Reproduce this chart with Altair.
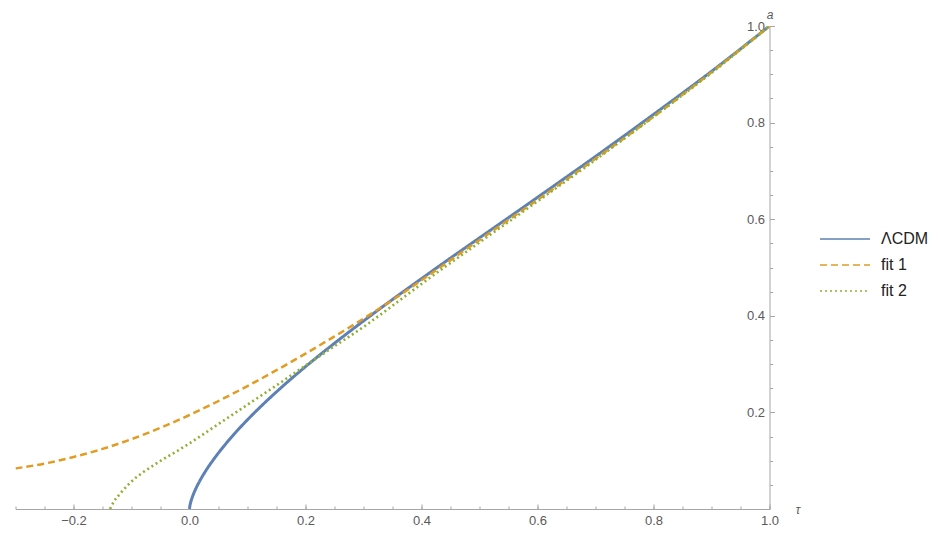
import altair as alt
import pandas as pd

# ---- data ----
series_names = ["ΛCDM", "fit 1", "fit 2"]
series_colors = ["#5E81B5", "#E19C24", "#8FB032"]
series_dashes = [[1, 0], [7, 4], [2, 3]]

tau_lcdm = [0, 0.0005, 0.001, 0.002, 0.005, 0.01, 0.02, 0.03, 0.04, 0.06, 0.08, 0.1,
            0.125, 0.15, 0.175, 0.2, 0.25, 0.3, 0.35, 0.4, 0.45, 0.5, 0.6, 0.7, 0.8, 0.9, 1.0]
a_lcdm = [0, 0.0054, 0.0086, 0.0136, 0.025, 0.0397, 0.0631, 0.0827, 0.1001, 0.1312, 0.1591, 0.1848,
          0.2146, 0.2426, 0.2692, 0.2947, 0.3432, 0.3893, 0.4338, 0.4769, 0.5195, 0.5614, 0.6452,
          0.7299, 0.8169, 0.906, 1.0]

tau_fit1 = [-0.3, -0.25, -0.2, -0.15, -0.1, -0.05, 0, 0.05, 0.1, 0.15, 0.2, 0.25, 0.3, 0.35,
            0.4, 0.5, 0.6, 0.7, 0.8, 0.9, 1.0]
a_fit1 = [0.084, 0.094, 0.1076, 0.1244, 0.1446, 0.1681, 0.1946, 0.2236, 0.2546, 0.2874, 0.3217,
          0.3573, 0.3942, 0.4325, 0.4735, 0.557, 0.640, 0.725, 0.812, 0.904, 1.0]

tau_fit2 = [-0.137, -0.13, -0.12, -0.11, -0.1, -0.08, -0.06, -0.04, -0.02, 0, 0.05, 0.1, 0.15,
            0.2, 0.25, 0.3, 0.35, 0.4, 0.5, 0.6, 0.7, 0.8, 0.9, 1.0]
a_fit2 = [0, 0.016, 0.031, 0.045, 0.057, 0.076, 0.092, 0.107, 0.121, 0.136, 0.176, 0.216, 0.256,
          0.297, 0.337, 0.377, 0.421, 0.466, 0.552, 0.637, 0.723, 0.812, 0.903, 1.0]

x_major = [-0.2, 0.0, 0.2, 0.4, 0.6, 0.8, 1.0]
x_minor = [-0.3, -0.25, -0.2, -0.15, -0.1, -0.05, 0.0, 0.05, 0.1, 0.15, 0.2, 0.25, 0.3, 0.35,
           0.4, 0.45, 0.5, 0.55, 0.6, 0.65, 0.7, 0.75, 0.8, 0.85, 0.9, 0.95, 1.0]
y_major = [0.2, 0.4, 0.6, 0.8, 1.0]
y_minor = [0.05, 0.1, 0.15, 0.2, 0.25, 0.3, 0.35, 0.4, 0.45, 0.5, 0.55, 0.6, 0.65, 0.7, 0.75,
           0.8, 0.85, 0.9, 0.95, 1.0]

# ---- table ----
rows = []
for name, taus, avals in [("ΛCDM", tau_lcdm, a_lcdm), ("fit 1", tau_fit1, a_fit1),
                          ("fit 2", tau_fit2, a_fit2)]:
    rows += [{"series": name, "tau": t, "a": v} for t, v in zip(taus, avals)]
df = pd.DataFrame(rows)

W, H = 754, 483
AX = "#a6a6a6"
LBL = "#5a5a5a"
FONT = "Liberation Sans"

x_scale = alt.Scale(domain=[-0.3, 1.0], nice=False, zero=False)
y_scale = alt.Scale(domain=[0.0, 1.0], nice=False, zero=False)

x_major_axis = alt.Axis(orient="top", offset=-H, values=x_major, format=".1f", grid=False,
                        tickSize=5, tickColor=AX, domainColor=AX, domainWidth=1, tickWidth=1,
                        labelColor=LBL, labelFont=FONT, labelFontSize=13, labelBaseline="top",
                        labelAlign="center", labelPadding=-10, labelFlush=False, labelOverlap=False,
                        title="τ", titleX=782, titleY=0, titleBaseline="middle", titleAlign="center",
                        titleFont=FONT, titleFontStyle="italic", titleFontWeight="normal",
                        titleColor=LBL, titleFontSize=12)
y_major_axis = alt.Axis(orient="right", values=y_major, format=".1f", grid=False,
                        tickSize=5, tickColor=AX, domainColor=AX, domainWidth=1, tickWidth=1,
                        labelColor=LBL, labelFont=FONT, labelFontSize=13, labelBaseline="middle",
                        labelAlign="right", labelPadding=-10, labelFlush=False, labelOverlap=False,
                        title="a", titleAngle=0, titleX=0, titleY=-12, titleBaseline="middle",
                        titleAlign="center", titleFont=FONT, titleFontStyle="italic",
                        titleFontWeight="normal", titleColor=LBL, titleFontSize=12)
x_minor_axis = alt.Axis(orient="top", offset=-H, values=x_minor, grid=False, labels=False,
                        domain=False, tickSize=3, tickColor=AX, tickWidth=1, title="")
y_minor_axis = alt.Axis(orient="right", values=y_minor, grid=False, labels=False,
                        domain=False, tickSize=3, tickColor=AX, tickWidth=1, title="")

legend = alt.Legend(title=None, orient="none", legendX=803.5, legendY=203,
                    symbolType="stroke", symbolSize=2500, symbolStrokeWidth=1.6,
                    labelFont=FONT, labelFontSize=16, labelColor="#222222", labelOffset=10,
                    clipHeight=20, rowPadding=6, padding=0)

color = alt.Color("series:N", scale=alt.Scale(domain=series_names, range=series_colors),
                  legend=legend)
dash = alt.StrokeDash("series:N", scale=alt.Scale(domain=series_names, range=series_dashes),
                      legend=legend)

base = alt.Chart(df)

blue = base.transform_filter(alt.datum.series == "ΛCDM").mark_line(
    clip=True, interpolate="monotone", strokeWidth=3).encode(
    x=alt.X("tau:Q", scale=x_scale, axis=x_major_axis),
    y=alt.Y("a:Q", scale=y_scale, axis=y_major_axis),
    color=color, strokeDash=dash)

orange = base.transform_filter(alt.datum.series == "fit 1").mark_line(
    clip=True, interpolate="monotone", strokeWidth=2.5).encode(
    x=alt.X("tau:Q", scale=x_scale, axis=x_minor_axis),
    y=alt.Y("a:Q", scale=y_scale, axis=y_minor_axis),
    color=color, strokeDash=dash)

green = base.transform_filter(alt.datum.series == "fit 2").mark_line(
    clip=True, interpolate="monotone", strokeWidth=2.6).encode(
    x=alt.X("tau:Q", scale=x_scale, axis=None),
    y=alt.Y("a:Q", scale=y_scale, axis=None),
    color=color, strokeDash=dash)

chart = alt.layer(blue, orange, green).resolve_axis(
    x="independent", y="independent").properties(
    width=W, height=H,
    autosize=alt.AutoSizeParams(type="none"),
    padding={"left": 7.5, "top": 18, "right": 160, "bottom": 17},
    background="white").configure_view(stroke=None)

chart.save("out.html", embed_options={"renderer": "svg", "actions": False})
